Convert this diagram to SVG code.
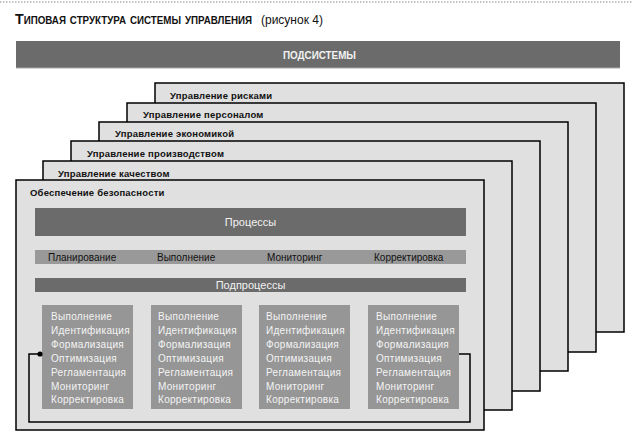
<svg xmlns="http://www.w3.org/2000/svg" width="636" height="444" viewBox="0 0 636 444">
<style>
.frame{fill:#e0e0e0;stroke:#000;stroke-width:1.5}
.flabel{font-family:"Liberation Sans",Arial,sans-serif;font-size:9.5px;font-weight:bold;fill:#111;letter-spacing:0.2px}
.dark{fill:#6b6b6b}
.light{fill:#999}
.sub{fill:#969696}
.wt{font-family:"Liberation Sans",Arial,sans-serif;font-size:11px;fill:#f2f2f2;text-anchor:middle}
.bt{font-family:"Liberation Sans",Arial,sans-serif;font-size:10px;fill:#111}
.st{font-family:"Liberation Sans",Arial,sans-serif;font-size:10px;fill:#f4f4f4;letter-spacing:0.3px}
</style>
<rect width="636" height="444" fill="#fff"/>
<line x1="0" y1="2" x2="632" y2="2" stroke="#888" stroke-width="1" stroke-dasharray="1.5,1.5"/>
<g id="title">
<text x="15" y="24" font-family="Liberation Sans,Arial,sans-serif" font-size="14.5" font-weight="bold" font-variant="small-caps" fill="#111" textLength="237" lengthAdjust="spacingAndGlyphs">Типовая структура системы управления</text>
<text x="261" y="24" font-family="Liberation Sans,Arial,sans-serif" font-size="12" fill="#111">(рисунок 4)</text>
</g>
<g id="header">
<rect x="16" y="41" width="604" height="27" class="dark"/>
<line x1="16" y1="68" x2="620" y2="68" stroke="#aaa" stroke-width="1"/>
<text x="319.5" y="59" font-family="Liberation Sans,Arial,sans-serif" font-size="14" font-weight="bold" font-variant="small-caps" fill="#f2f2f2" text-anchor="middle" textLength="73" lengthAdjust="spacingAndGlyphs">подсистемы</text>
</g>
<g id="risk"><rect class="frame" x="155" y="83" width="469" height="249"/><text class="flabel" x="170" y="99">Управление рисками</text></g>
<g id="personnel"><rect class="frame" x="127" y="103" width="469" height="249"/><text class="flabel" x="143" y="118">Управление персоналом</text></g>
<g id="economics"><rect class="frame" x="99" y="122" width="469" height="249"/><text class="flabel" x="115" y="137">Управление экономикой</text></g>
<g id="production"><rect class="frame" x="71" y="141" width="469" height="250"/><text class="flabel" x="87" y="157">Управление производством</text></g>
<g id="quality"><rect class="frame" x="43" y="161" width="469" height="249"/><text class="flabel" x="58" y="177">Управление качеством</text></g>
<g id="safety"><rect class="frame" x="16" y="180" width="468" height="250"/><text class="flabel" x="30" y="196">Обеспечение безопасности</text></g>
<g id="processes"><rect class="dark" x="35" y="208" width="431" height="28"/><text class="wt" x="250.5" y="226">Процессы</text></g>
<g id="stages">
<rect class="light" x="35" y="250" width="431" height="14"/>
<text class="bt" x="48" y="261">Планирование</text>
<text class="bt" x="157" y="261">Выполнение</text>
<text class="bt" x="267" y="261">Мониторинг</text>
<text class="bt" x="374" y="261">Корректировка</text>
</g>
<g id="subprocesses"><rect class="dark" x="35" y="278" width="431" height="14"/><text class="wt" x="250.5" y="289">Подпроцессы</text></g>
<g id="sub1"><rect class="sub" x="42" y="305" width="91" height="104"/>
<text class="st" x="51" y="320"><tspan x="51">Выполнение</tspan><tspan x="51" dy="13.9">Идентификация</tspan><tspan x="51" dy="13.9">Формализация</tspan><tspan x="51" dy="13.9">Оптимизация</tspan><tspan x="51" dy="13.9">Регламентация</tspan><tspan x="51" dy="13.9">Мониторинг</tspan><tspan x="51" dy="13.9">Корректировка</tspan></text></g>
<g id="sub2"><rect class="sub" x="151" y="305" width="91" height="104"/>
<text class="st" x="158" y="320"><tspan x="158">Выполнение</tspan><tspan x="158" dy="13.9">Идентификация</tspan><tspan x="158" dy="13.9">Формализация</tspan><tspan x="158" dy="13.9">Оптимизация</tspan><tspan x="158" dy="13.9">Регламентация</tspan><tspan x="158" dy="13.9">Мониторинг</tspan><tspan x="158" dy="13.9">Корректировка</tspan></text></g>
<g id="sub3"><rect class="sub" x="259" y="305" width="91" height="104"/>
<text class="st" x="266" y="320"><tspan x="266">Выполнение</tspan><tspan x="266" dy="13.9">Идентификация</tspan><tspan x="266" dy="13.9">Формализация</tspan><tspan x="266" dy="13.9">Оптимизация</tspan><tspan x="266" dy="13.9">Регламентация</tspan><tspan x="266" dy="13.9">Мониторинг</tspan><tspan x="266" dy="13.9">Корректировка</tspan></text></g>
<g id="sub4"><rect class="sub" x="368" y="305" width="91" height="104"/>
<text class="st" x="376" y="320"><tspan x="376">Выполнение</tspan><tspan x="376" dy="13.9">Идентификация</tspan><tspan x="376" dy="13.9">Формализация</tspan><tspan x="376" dy="13.9">Оптимизация</tspan><tspan x="376" dy="13.9">Регламентация</tspan><tspan x="376" dy="13.9">Мониторинг</tspan><tspan x="376" dy="13.9">Корректировка</tspan></text></g>
<g id="connectors">
<path d="M40,354 H29 V422 H470 V354 H459" fill="none" stroke="#000" stroke-width="1.5"/>
<circle cx="40" cy="354" r="2.6" fill="#000"/>
</g>
</svg>
